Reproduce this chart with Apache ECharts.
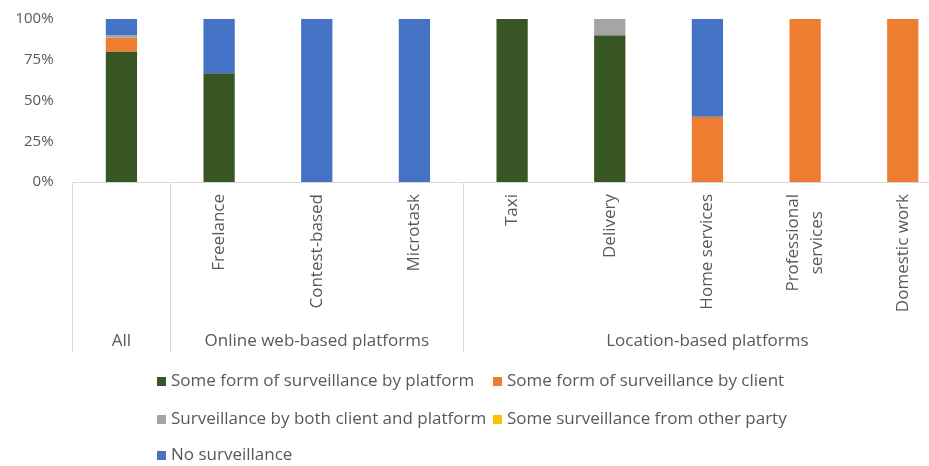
<!DOCTYPE html>
<html>
<head>
<meta charset="utf-8">
<script src="https://cdn.jsdelivr.net/npm/echarts@6/dist/echarts.min.js"></script>
<style>
html,body{margin:0;padding:0;background:#fff;}
#chart{width:929px;height:466px;}
</style>
</head>
<body>
<div id="chart"></div>
<script>
// ---- data ----
var categories = ['All', 'Freelance', 'Contest-based', 'Microtask', 'Taxi', 'Delivery', 'Home services', 'Professional\nservices', 'Domestic work'];
var tickLabels = ['', 'Freelance', 'Contest-based', 'Microtask', 'Taxi', 'Delivery', 'Home services', 'Professional\nservices', 'Domestic work'];
var groupLabels = ['All', '', 'Online web-based platforms', '', '', '', 'Location-based platforms', '', ''];
var groupBoundaries = [0, 1, 4];
var yTicks = [0, 25, 50, 75, 100];

var seriesNames = [
  'Some form of surveillance by platform',
  'Some form of surveillance by client',
  'Surveillance by both client and platform',
  'Some surveillance from other party',
  'No surveillance'
];
var byPlatform = [80, 66.7, 0, 0, 100, 90, 0, 0, 0];
var byClient   = [8.5, 0, 0, 0, 0, 0, 40, 100, 100];
var byBoth     = [1.5, 0, 0, 0, 0, 10, 0, 0, 0];
var otherParty = [0, 0, 0, 0, 0, 0, 0, 0, 0];
var noSurv     = [10, 33.3, 100, 100, 0, 0, 60, 0, 0];

var seriesData = [byPlatform, byClient, byBoth, otherParty, noSurv];
var colors = ['#375623', '#ED7D31', '#A5A5A5', '#FFC000', '#4472C4'];

var FONT = 'Open Sans';
var TXT = '#595959';
var FS = 17;

var chart = echarts.init(document.getElementById('chart'), null, {renderer: 'canvas'});

var legendPos = [
  {left: 157, top: 373},
  {left: 493, top: 373},
  {left: 157, top: 411},
  {left: 493, top: 411},
  {left: 157, top: 447}
];

var option = {
  backgroundColor: '#ffffff',
  animation: false,
  grid: {left: 72.6, top: 19, width: 879, height: 163, containLabel: false, outerBoundsMode: 'none'},
  legend: seriesNames.map(function (n, i) {
    return {
      data: [n],
      left: legendPos[i].left,
      top: legendPos[i].top,
      orient: 'horizontal',
      icon: 'rect',
      itemWidth: 9,
      itemHeight: 9,
      padding: 0,
      selectedMode: false,
      textStyle: {fontFamily: FONT, fontSize: FS, color: TXT}
    };
  }),
  xAxis: [
    {
      type: 'category',
      data: categories,
      position: 'bottom',
      boundaryGap: true,
      axisLine: {show: true, lineStyle: {color: '#D9D9D9', width: 1}},
      axisTick: {show: false},
      axisLabel: {
        interval: 0,
        rotate: 90,
        margin: 12,
        fontFamily: FONT,
        fontSize: FS,
        color: TXT,
        lineHeight: 24,
        formatter: function (v, idx) {
          var t = tickLabels[idx];
          if (!t) return '';
          return t.split('\n').map(function (s) { return '{c|' + s + '}'; }).join('\n');
        },
        rich: {c: {align: 'center', fontFamily: FONT, fontSize: FS, color: TXT, lineHeight: 24}}
      }
    },
    {
      type: 'category',
      data: categories,
      position: 'bottom',
      offset: 0,
      boundaryGap: true,
      axisLine: {show: false},
      axisTick: {
        show: true,
        length: 170,
        inside: false,
        interval: function (idx) { return groupBoundaries.indexOf(idx) >= 0; },
        lineStyle: {color: '#D9D9D9', width: 1}
      },
      axisLabel: {
        interval: 0,
        margin: 151,
        fontFamily: FONT,
        fontSize: FS,
        color: TXT,
        formatter: function (v, idx) { return groupLabels[idx]; }
      }
    }
  ],
  yAxis: {
    type: 'value',
    min: yTicks[0],
    max: yTicks[yTicks.length - 1],
    interval: yTicks[1] - yTicks[0],
    axisLine: {show: false},
    axisTick: {show: false},
    splitLine: {show: false},
    axisLabel: {
      margin: 19,
      fontFamily: FONT,
      fontSize: 15,
      color: TXT,
      formatter: '{value}%'
    }
  },
  series: seriesNames.map(function (n, i) {
    return {
      name: n,
      type: 'bar',
      stack: 'total',
      xAxisIndex: 0,
      data: seriesData[i],
      barWidth: '32%',
      itemStyle: {color: colors[i]},
      emphasis: {disabled: true}
    };
  })
};

chart.setOption(option);
</script>
</body>
</html>
